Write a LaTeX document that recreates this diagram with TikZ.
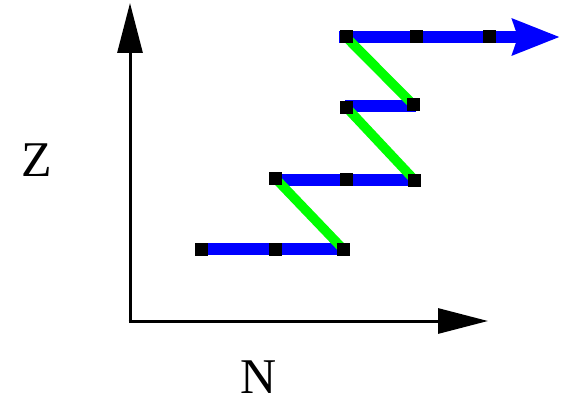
\documentclass[tikz,border=0pt]{standalone}
\usepackage{fontspec}
\setmainfont{Liberation Serif}
\usetikzlibrary{arrows.meta}
\begin{document}
\begin{tikzpicture}[x=1pt,y=-1pt,
  sq/.style={fill=black,minimum size=13pt,inner sep=0pt,outer sep=0pt},
  bl/.style={draw={rgb,255:red,0;green,0;blue,255},line width=12pt},
  gr/.style={draw={rgb,255:red,0;green,255;blue,0},line width=9.5pt},
  ax/.style={line width=3pt,-{Triangle[length=50pt,width=25pt]}},
  lab/.style={inner sep=0pt,font=\fontsize{50}{50}\selectfont}]
\useasboundingbox (0,0) rectangle (561,401);
% axes
\coordinate (o) at (130,321);
\coordinate (ytip) at (130,3);
\coordinate (xtip) at (488,321);
\draw[ax] (o) -- (ytip);
\draw[ax] ([xshift=-1.5pt]o) -- (xtip);
\node[lab] (zl) at (37,160) {Z};
\node[lab] (nl) at (259,377) {N};
% square positions
\coordinate (a1) at (201.5,249);
\coordinate (a2) at (275,249);
\coordinate (a3) at (343,249);
\coordinate (b1) at (275.5,178.5);
\coordinate (b2) at (346,179.5);
\coordinate (b3) at (414.5,180);
\coordinate (c1) at (346.5,107.5);
\coordinate (c2) at (413,104.5);
\coordinate (d1) at (346,37);
\coordinate (d2) at (416,37);
\coordinate (d3) at (489.5,37);
\coordinate (dend) at (560,37);
% blue lines
\draw[bl] (a1) -- (a3);
\draw[bl] (b1 |- b2) -- (b3 |- b2);
\draw[bl] (345,106) -- (416,106);
\draw[bl,-{Stealth[length=47pt,width=35pt,inset=5pt]}] (339,37) -- (dend);
% green lines
\draw[gr] (a3) -- (b1);
\draw[gr] (b3) -- (c1);
\draw[gr] (c2) -- (d1);
% squares
\foreach \p in {a1,a2,a3,b1,b2,b3,c1,c2,d1,d2,d3}
  \node[sq] (n\p) at (\p) {};
\end{tikzpicture}
\end{document}
